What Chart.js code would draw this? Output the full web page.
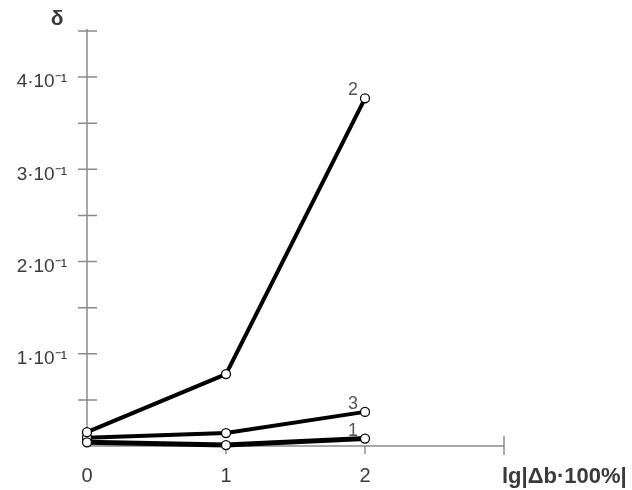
<!DOCTYPE html>
<html>
<head>
<meta charset="utf-8">
<script src="https://cdn.jsdelivr.net/npm/chart.js@4"></script>
<style>
  body { margin: 0; background: #fff; }
</style>
</head>
<body>
<canvas id="graph" width="632" height="490"></canvas>
<script>
//データ
const xValues = [0, 1, 2];
const series1 = [0.004, 0.001, 0.008];
const series2 = [0.015, 0.078, 0.377];
const series3 = [0.009, 0.014, 0.037];
const seriesNames = ['1', '2', '3'];

//目盛り
const yTicks = [0.05, 0.1, 0.15, 0.2, 0.25, 0.3, 0.35, 0.4, 0.45];
const yLabels = { 0.1: '1·10⁻¹', 0.2: '2·10⁻¹', 0.3: '3·10⁻¹', 0.4: '4·10⁻¹' };
const xTicks = [0, 1, 2, 3];
const xLabels = { 0: '0', 1: '1', 2: '2' };

const axisColor = '#8a8a8a';
const textColor = '#3a3a3a';

//軸と目盛りを描く
const axesPlugin = {
  id: 'axes',
  beforeDatasetsDraw(chart) {
    const ctx = chart.ctx;
    const x = chart.scales.x;
    const y = chart.scales.y;
    const x0 = x.getPixelForValue(0);
    const y0 = y.getPixelForValue(0);
    ctx.save();
    ctx.strokeStyle = axisColor;
    ctx.lineWidth = 1.5;
    ctx.beginPath();
    ctx.moveTo(x0, y0);
    ctx.lineTo(x0, y.getPixelForValue(0.45) - 2);
    ctx.moveTo(x0, y0);
    ctx.lineTo(x.getPixelForValue(3), y0);
    yTicks.forEach(v => {
      const py = y.getPixelForValue(v);
      ctx.moveTo(x0 - 9, py);
      ctx.lineTo(x0 + 10, py);
    });
    xTicks.forEach(v => {
      if (v === 0) return;
      const px = x.getPixelForValue(v);
      ctx.moveTo(px, y0 + (v === 3 ? 9 : 8));
      ctx.lineTo(px, y0 - (v === 3 ? 10 : 0));
    });
    ctx.stroke();

    ctx.fillStyle = textColor;
    ctx.font = '19px "Liberation Sans", Arial, sans-serif';
    ctx.textAlign = 'right';
    ctx.textBaseline = 'middle';
    Object.keys(yLabels).forEach(k => {
      ctx.fillText(yLabels[k], 67, y.getPixelForValue(Number(k)) + 5);
    });
    ctx.font = '20px "Liberation Sans", Arial, sans-serif';
    ctx.textAlign = 'center';
    Object.keys(xLabels).forEach(k => {
      ctx.fillText(xLabels[k], x.getPixelForValue(Number(k)), y0 + 30);
    });

    //軸名
    ctx.font = 'bold 21px "Liberation Sans", Arial, sans-serif';
    ctx.fillText('δ', 57, 19);
    ctx.textAlign = 'left';
    ctx.font = 'bold 22px "Liberation Sans", Arial, sans-serif';
    ctx.fillText('lg|Δb·100%|', 502, y0 + 31);
    ctx.restore();
  },
  afterDatasetsDraw(chart) {
    //線の番号
    const ctx = chart.ctx;
    ctx.save();
    ctx.fillStyle = '#555';
    ctx.font = '18px "Liberation Sans", Arial, sans-serif';
    ctx.textAlign = 'center';
    ctx.textBaseline = 'middle';
    chart.data.datasets.forEach((ds, i) => {
      const meta = chart.getDatasetMeta(i);
      const last = meta.data[meta.data.length - 1];
      ctx.fillText(seriesNames[i], last.x - 12, last.y - 8);
    });
    ctx.restore();
  }
};

function makeSet(values, width) {
  return {
    data: xValues.map((v, i) => ({ x: v, y: values[i] })),
    borderColor: '#000',
    borderWidth: width,
    pointRadius: 4.5,
    pointBackgroundColor: '#fff',
    pointBorderColor: '#000',
    pointBorderWidth: 1.3,
    tension: 0,
    clip: false
  };
}

const graph = new Chart(document.getElementById('graph').getContext('2d'), {
  type: 'line',
  data: {
    datasets: [makeSet(series1, 5), makeSet(series2, 4), makeSet(series3, 4)]
  },
  options: {
    responsive: false,
    animation: false,
    layout: { padding: { left: 87, right: 128, top: 31, bottom: 44 } },
    scales: {
      x: { type: 'linear', min: 0, max: 3, display: false },
      y: { min: 0, max: 0.45, display: false }
    },
    plugins: {
      legend: { display: false },
      tooltip: { enabled: false }
    }
  },
  plugins: [axesPlugin]
});
</script>
</body>
</html>
